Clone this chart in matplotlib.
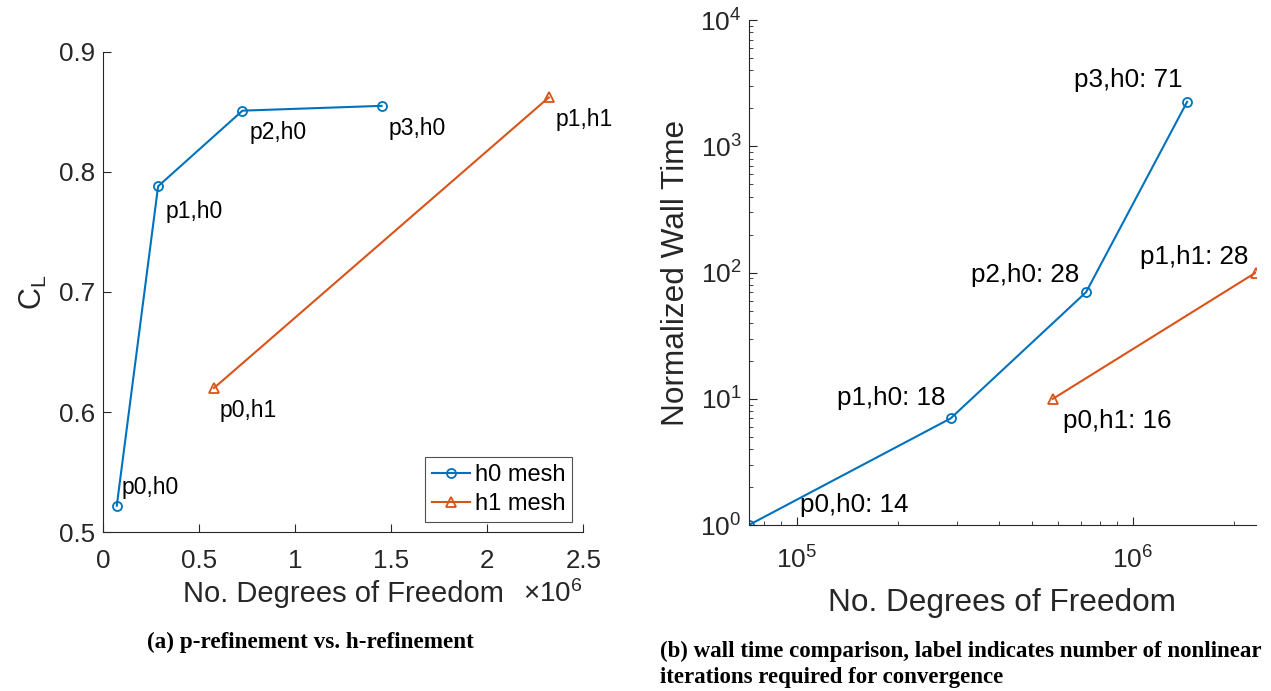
import matplotlib
matplotlib.use("Agg")
import matplotlib.pyplot as plt
from matplotlib.ticker import FuncFormatter, NullFormatter, LogLocator

plt.rcParams['font.family'] = ['Liberation Sans', 'DejaVu Sans']
plt.rcParams['mathtext.fontset'] = 'custom'
plt.rcParams['mathtext.rm'] = 'Liberation Sans'
plt.rcParams['mathtext.it'] = 'Liberation Sans:italic'

# data
dof_h0 = [7.2e4, 2.87e5, 7.26e5, 1.45e6]
dof_h1 = [5.78e5, 2.32e6]
cl_h0 = [0.522, 0.788, 0.851, 0.855]
cl_h1 = [0.620, 0.862]
time_h0 = [1, 7, 70, 2250]
time_h1 = [10, 100]
iters_h0 = [14, 18, 28, 71]
iters_h1 = [16, 28]
names_h0 = ["p0,h0", "p1,h0", "p2,h0", "p3,h0"]
names_h1 = ["p0,h1", "p1,h1"]

blue = "#0072BD"
orange = "#D95319"
axcol = "#262626"

fig = plt.figure(figsize=(12.71, 6.91), dpi=100)

def style(ax, size):
    for s in ["top", "right"]:
        ax.spines[s].set_visible(False)
    for s in ["left", "bottom"]:
        ax.spines[s].set_color(axcol)
        ax.spines[s].set_linewidth(0.8)
    ax.tick_params(which="both", direction="in", colors=axcol, labelsize=size)
    ax.tick_params(which="major", length=6)
    ax.tick_params(which="minor", length=3)
    ax.set_facecolor("none")

# (a) lift coefficient
ax1 = fig.add_axes([0.081, 0.230, 0.378, 0.695])
style(ax1, 18.7)
ax1.plot(dof_h0, cl_h0, "-o", color=blue, lw=1.5, ms=6.5, mfc="none", mew=1.3, label="h0 mesh")
ax1.plot(dof_h1, cl_h1, "-^", color=orange, lw=1.5, ms=6.5, mfc="none", mew=1.3, label="h1 mesh")
ax1.set_xlim(0, 2.5e6)
ax1.set_ylim(0.5, 0.9)
ax1.set_xticks([0, 0.5e6, 1e6, 1.5e6, 2e6, 2.5e6])
ax1.set_yticks([0.5, 0.6, 0.7, 0.8, 0.9])
ax1.xaxis.set_major_formatter(FuncFormatter(lambda v, p: "%g" % (v / 1e6)))
ax1.tick_params(axis="x", pad=12)
ax1.tick_params(axis="y", pad=5.5)
ax1.set_xlabel("No. Degrees of Freedom", fontsize=21, color=axcol, labelpad=5)
ax1.set_ylabel(r"$\mathregular{C_L}$", fontsize=22, color=axcol, labelpad=7)
ax1.text(0.998, -0.145, r"$\times10^{6}$", transform=ax1.transAxes, ha="right", va="baseline",
         fontsize=20, color=axcol)

off_a_h0 = [(5, 18), (7, -25), (7, -22), (7, -23)]
off_a_h1 = [(6, -23), (7, -22)]
for x, y, n, o in zip(dof_h0, cl_h0, names_h0, off_a_h0):
    ax1.annotate(n, (x, y), xytext=o, textcoords="offset pixels", ha="left", va="center", fontsize=16.5)
for x, y, n, o in zip(dof_h1, cl_h1, names_h1, off_a_h1):
    ax1.annotate(n, (x, y), xytext=o, textcoords="offset pixels", ha="left", va="center", fontsize=16.5)

leg = ax1.legend(loc="lower right", fontsize=17, fancybox=False, edgecolor=axcol,
                 handlelength=1.6, handletextpad=0.2, borderpad=0.3, labelspacing=0.3,
                 borderaxespad=0, bbox_to_anchor=(0.977, 0.021))
leg.get_frame().set_linewidth(0.8)

fig.text(0.244, 0.071, "(a) p-refinement vs. h-refinement", family="Liberation Serif",
         weight="bold", fontsize=16.7, ha="center", va="center")

# (b) wall time
ax2 = fig.add_axes([0.589, 0.240, 0.399, 0.731])
style(ax2, 19)
ax2.plot(dof_h0, time_h0, "-o", color=blue, lw=1.5, ms=6.5, mfc="none", mew=1.3)
ax2.plot(dof_h1, time_h1, "-^", color=orange, lw=1.5, ms=6.5, mfc="none", mew=1.3)
ax2.set_xscale("log")
ax2.set_yscale("log")
ax2.set_xlim(dof_h0[0], dof_h1[-1])
ax2.set_ylim(1, 1e4)
ax2.yaxis.set_major_locator(LogLocator(base=10, numticks=10))
ax2.xaxis.set_minor_formatter(NullFormatter())
ax2.yaxis.set_minor_formatter(NullFormatter())
ax2.tick_params(axis="x", which="major", pad=15)
ax2.tick_params(axis="y", which="major", pad=5)
ax2.set_xlabel("No. Degrees of Freedom", fontsize=22.7, color=axcol, labelpad=11)
ax2.set_ylabel("Normalized Wall Time", fontsize=22.7, color=axcol, labelpad=6.5)

off_b_h0 = [(51, 20), (-114, 20), (-115, 17), (-113, 22)]
off_b_h1 = [(10, -22), (-116, 16)]
for x, y, n, k, o in zip(dof_h0, time_h0, names_h0, iters_h0, off_b_h0):
    ax2.annotate("%s: %d" % (n, k), (x, y), xytext=o, textcoords="offset pixels",
                 ha="left", va="center", fontsize=18.7)
for x, y, n, k, o in zip(dof_h1, time_h1, names_h1, iters_h1, off_b_h1):
    ax2.annotate("%s: %d" % (n, k), (x, y), xytext=o, textcoords="offset pixels",
                 ha="left", va="center", fontsize=18.7)

fig.text(0.519, 0.039, "(b) wall time comparison, label indicates number of nonlinear\n"
         "iterations required for convergence", family="Liberation Serif",
         weight="bold", fontsize=16.5, ha="left", va="center", linespacing=1.3)

fig.savefig("out.png", dpi=100)
